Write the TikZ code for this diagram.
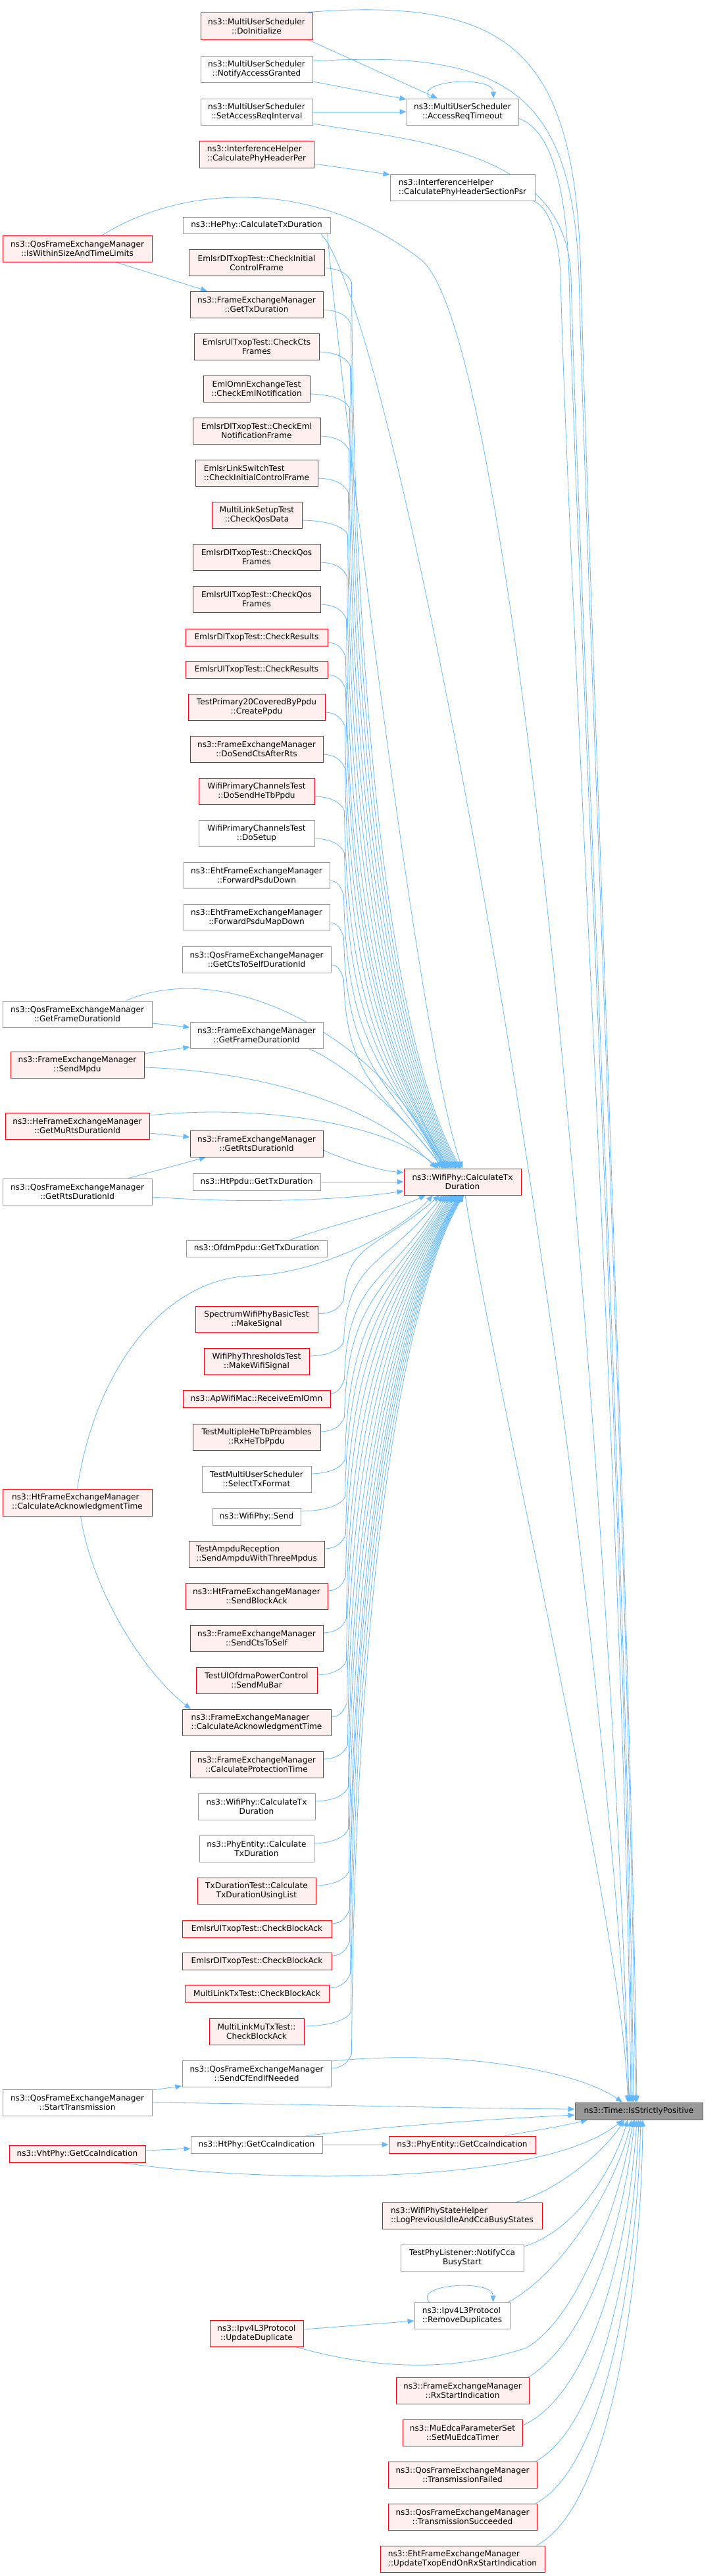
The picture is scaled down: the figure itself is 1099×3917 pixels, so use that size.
\documentclass[tikz,border=0pt]{standalone}
\usepackage{fontspec}
\setmainfont{DejaVu Sans}
\usetikzlibrary{arrows.meta,calc}
\definecolor{edgec}{HTML}{63B8FF}
\definecolor{redb}{HTML}{FF0000}
\definecolor{pinkf}{HTML}{FFF0F0}
\definecolor{grayb}{HTML}{999999}
\definecolor{tgtf}{HTML}{999999}
\definecolor{tgtb}{HTML}{666666}
\pgfdeclarelayer{back}\pgfdeclarelayer{bg}\pgfsetlayers{back,bg,main}
\tikzset{
  base/.style={draw, line width=1pt, inner sep=0pt, font=\fontsize{12.1pt}{14pt}\selectfont, align=center, text=black},
  rbox/.style={base, draw=redb, fill=pinkf},
  gbox/.style={base, draw=grayb, fill=white},
  tbox/.style={base, draw=tgtb, fill=tgtf},
  sz/.style 2 args={minimum width=#1pt, minimum height=#2pt},
  cline/.style={draw=edgec, line width=0.8pt, -{Triangle[length=10pt,width=8pt]}}
}
\newcommand\upC[5]{\draw[cline] ([yshift=-8pt]#1.east) .. controls +({0.65*#2},-1) and +(-4,10) .. ($(#1.east)+(#2,-30)$) .. controls +(4,-#3) and +(-90,#5) .. ([xshift=#4pt]cen.north);}
\newcommand\loC[5]{\draw[cline] ([yshift=8pt]#1.east) .. controls +({0.65*#2},1) and +(-4,-10) .. ($(#1.east)+(#2,30)$) .. controls +(4,#3) and +(-90,-#5) .. ([xshift=#4pt]cen.south);}
\begin{document}
\begin{tikzpicture}[x=1pt,y=1pt]
\useasboundingbox (0,0) rectangle (1099,-3917);
\begin{pgfonlayer}{back}\fill[white] (0,0) rectangle (1099,-3917);\end{pgfonlayer}
% nodes
\node[rbox,sz={170}{41}] (doinit) at (390,-39.5) {ns3::MultiUserScheduler\\::DoInitialize};
\node[gbox,sz={170}{40}] (notify) at (390,-105) {ns3::MultiUserScheduler\\::NotifyAccessGranted};
\node[gbox,sz={170}{40}] (setacc) at (390,-170) {ns3::MultiUserScheduler\\::SetAccessReqInterval};
\node[rbox,sz={174}{41},align=left] (phyper) at (390,-234.5) {ns3::InterferenceHelper\\::CalculatePhyHeaderPer};
\node[gbox,sz={170}{40}] (accto) at (703,-170) {ns3::MultiUserScheduler\\::AccessReqTimeout};
\node[gbox,sz={220}{40},align=left] (sectpsr) at (703,-285) {ns3::InterferenceHelper\\::CalculatePhyHeaderSectionPsr};
\node[rbox,sz={227}{40}] (within) at (117.5,-378) {ns3::QosFrameExchangeManager\\::IsWithinSizeAndTimeLimits};
\node[gbox,sz={224}{25}] (hephy) at (390,-342.5) {ns3::HePhy::CalculateTxDuration};
\node[rbox,sz={206}{40}] (chkinit) at (390,-399.5) {EmlsrDlTxopTest::CheckInitial\\ControlFrame};
\node[rbox,sz={202}{40}] (gettx) at (390,-463) {ns3::FrameExchangeManager\\::GetTxDuration};
\node[rbox,sz={190}{40}] (ctsfr) at (390,-527) {EmlsrUlTxopTest::CheckCts\\Frames};
\node[rbox,sz={162}{40}] (emlnot) at (390,-591) {EmlOmnExchangeTest\\::CheckEmlNotification};
\node[rbox,sz={194}{40}] (emlnotfr) at (390,-655) {EmlsrDlTxopTest::CheckEml\\NotificationFrame};
\node[rbox,sz={186}{40},align=left] (lsinit) at (390,-719) {EmlsrLinkSwitchTest\\::CheckInitialControlFrame};
\node[rbox,sz={137}{40}] (qosdata) at (390.5,-783) {MultiLinkSetupTest\\::CheckQosData};
\node[rbox,sz={194}{40}] (dlqos) at (390,-847) {EmlsrDlTxopTest::CheckQos\\Frames};
\node[rbox,sz={194}{40}] (ulqos) at (390,-911) {EmlsrUlTxopTest::CheckQos\\Frames};
\node[rbox,sz={216}{26}] (dlres) at (390,-969) {EmlsrDlTxopTest::CheckResults};
\node[rbox,sz={216}{26}] (ulres) at (390,-1018) {EmlsrUlTxopTest::CheckResults};
\node[rbox,sz={208}{40}] (ppdu) at (390,-1075) {TestPrimary20CoveredByPpdu\\::CreatePpdu};
\node[rbox,sz={202}{40}] (ctsrts) at (390,-1139) {ns3::FrameExchangeManager\\::DoSendCtsAfterRts};
\node[rbox,sz={176}{40}] (hetb) at (390,-1203) {WifiPrimaryChannelsTest\\::DoSendHeTbPpdu};
\node[gbox,sz={176}{40}] (dosetup) at (390,-1267) {WifiPrimaryChannelsTest\\::DoSetup};
\node[gbox,sz={222}{40}] (psdudown) at (390,-1331) {ns3::EhtFrameExchangeManager\\::ForwardPsduDown};
\node[gbox,sz={222}{40}] (psdumap) at (390,-1395) {ns3::EhtFrameExchangeManager\\::ForwardPsduMapDown};
\node[gbox,sz={226}{40}] (ctsself) at (390,-1459) {ns3::QosFrameExchangeManager\\::GetCtsToSelfDurationId};
\node[gbox,sz={227}{40}] (qosfdur) at (117.5,-1542) {ns3::QosFrameExchangeManager\\::GetFrameDurationId};
\node[gbox,sz={202}{40}] (fdur) at (390,-1574) {ns3::FrameExchangeManager\\::GetFrameDurationId};
\node[rbox,sz={203}{40}] (sendmpdu) at (117.5,-1619) {ns3::FrameExchangeManager\\::SendMpdu};
\node[rbox,sz={219}{40}] (murts) at (117.5,-1712) {ns3::HeFrameExchangeManager\\::GetMuRtsDurationId};
\node[rbox,sz={202}{40}] (rtsdur) at (390,-1739) {ns3::FrameExchangeManager\\::GetRtsDurationId};
\node[gbox,sz={194}{26}] (htppdu) at (390,-1797) {ns3::HtPpdu::GetTxDuration};
\node[gbox,sz={227}{40}] (qosrts) at (117.5,-1812) {ns3::QosFrameExchangeManager\\::GetRtsDurationId};
\node[gbox,sz={214}{25}] (ofdm) at (390,-1898.5) {ns3::OfdmPpdu::GetTxDuration};
\node[rbox,sz={178}{40}] (cen) at (703,-1797) {ns3::WifiPhy::CalculateTx\\Duration};
\node[rbox,sz={186}{40}] (mksig) at (390,-2006) {SpectrumWifiPhyBasicTest\\::MakeSignal};
\node[rbox,sz={160}{40}] (mkwifi) at (390,-2070) {WifiPhyThresholdsTest\\::MakeWifiSignal};
\node[rbox,sz={224}{26}] (emlomn) at (390,-2127) {ns3::ApWifiMac::ReceiveEmlOmn};
\node[rbox,sz={194}{40}] (rxhetb) at (390,-2185) {TestMultipleHeTbPreambles\\::RxHeTbPpdu};
\node[gbox,sz={166}{40}] (seltx) at (390,-2249) {TestMultiUserScheduler\\::SelectTxFormat};
\node[gbox,sz={134}{26}] (send) at (390,-2306) {ns3::WifiPhy::Send};
\node[rbox,sz={206}{40},align=left] (ampdu) at (390,-2363) {TestAmpduReception\\::SendAmpduWithThreeMpdus};
\node[rbox,sz={227}{41},align=left] (htack) at (117.5,-2284.5) {ns3::HtFrameExchangeManager\\::CalculateAcknowledgmentTime};
\node[rbox,sz={216}{40}] (sendba) at (390,-2427) {ns3::HtFrameExchangeManager\\::SendBlockAck};
\node[rbox,sz={202}{40}] (sendcts) at (390,-2491) {ns3::FrameExchangeManager\\::SendCtsToSelf};
\node[rbox,sz={184}{40}] (mubar) at (390,-2555) {TestUlOfdmaPowerControl\\::SendMuBar};
\node[rbox,sz={226}{40},align=left] (femack) at (390,-2619) {ns3::FrameExchangeManager\\::CalculateAcknowledgmentTime};
\node[rbox,sz={202}{40}] (prot) at (390,-2683) {ns3::FrameExchangeManager\\::CalculateProtectionTime};
\node[gbox,sz={178}{40}] (wtxdur) at (390,-2747) {ns3::WifiPhy::CalculateTx\\Duration};
\node[gbox,sz={174}{40}] (petx) at (390,-2811) {ns3::PhyEntity::Calculate\\TxDuration};
\node[rbox,sz={180}{40}] (txlist) at (390,-2875) {TxDurationTest::Calculate\\TxDurationUsingList};
\node[rbox,sz={227}{26}] (ulba) at (390.5,-2933) {EmlsrUlTxopTest::CheckBlockAck};
\node[rbox,sz={227}{26}] (dlba) at (390.5,-2982) {EmlsrDlTxopTest::CheckBlockAck};
\node[rbox,sz={219}{26}] (mlba) at (390.5,-3031) {MultiLinkTxTest::CheckBlockAck};
\node[rbox,sz={144}{40}] (mumlba) at (390,-3089) {MultiLinkMuTxTest::\\CheckBlockAck};
\node[gbox,sz={226}{40}] (cfend) at (390,-3153) {ns3::QosFrameExchangeManager\\::SendCfEndIfNeeded};
\node[gbox,sz={227}{40}] (starttx) at (117.5,-3197) {ns3::QosFrameExchangeManager\\::StartTransmission};
\node[gbox,sz={200}{26}] (htcca) at (390,-3261) {ns3::HtPhy::GetCcaIndication};
\node[rbox,sz={207}{26}] (vhtcca) at (117.5,-3275) {ns3::VhtPhy::GetCcaIndication};
\node[tbox,sz={194}{26}] (target) at (971,-3210) {ns3::Time::IsStrictlyPositive};
\node[rbox,sz={223}{26}] (pecca) at (702.5,-3261) {ns3::PhyEntity::GetCcaIndication};
\node[rbox,sz={243}{40},align=left] (logidle) at (702.5,-3369) {ns3::WifiPhyStateHelper\\::LogPreviousIdleAndCcaBusyStates};
\node[gbox,sz={187}{40}] (ccabusy) at (702.5,-3433) {TestPhyListener::NotifyCca\\BusyStart};
\node[gbox,sz={145}{40},align=left] (remdup) at (702.5,-3521) {ns3::Ipv4L3Protocol\\::RemoveDuplicates};
\node[rbox,sz={142}{40}] (upddup) at (390,-3548) {ns3::Ipv4L3Protocol\\::UpdateDuplicate};
\node[rbox,sz={202}{40}] (rxstart) at (703,-3635) {ns3::FrameExchangeManager\\::RxStartIndication};
\node[rbox,sz={182}{40}] (muedca) at (703,-3699) {ns3::MuEdcaParameterSet\\::SetMuEdcaTimer};
\node[rbox,sz={226}{40}] (txfail) at (703,-3763) {ns3::QosFrameExchangeManager\\::TransmissionFailed};
\node[rbox,sz={226}{40}] (txsucc) at (703,-3827) {ns3::QosFrameExchangeManager\\::TransmissionSucceeded};
\node[rbox,sz={250}{40},align=left] (txopend) at (703,-3891) {ns3::EhtFrameExchangeManager\\::UpdateTxopEndOnRxStartIndication};
% edges
\begin{pgfonlayer}{bg}
% top group
\draw[cline] ([xshift=-7pt]doinit.south east) -- ([xshift=-38pt]accto.north);
\draw[cline] ([yshift=-19pt]notify.east) -- ([yshift=19pt]accto.west);
\draw[cline] (setacc.east) -- (accto.west);
\draw[cline] ([yshift=-14.5pt]phyper.east) -- ([yshift=-1pt]sectpsr.north west);
\draw[cline] ([xshift=-50pt]accto.north) .. controls +(-25,28) and +(0,35) .. ([xshift=47pt]accto.north);
\draw[cline] ([xshift=-7pt]doinit.north east) .. controls (780,5) and (875,-80) .. (883,-420) .. controls (895,-900) and (958,-2400) .. ([xshift=-3pt]target.north);
\draw[cline] ([yshift=12pt]notify.east) .. controls (770,-75) and (870,-140) .. (880,-420) .. controls (892,-900) and (957,-2400) .. ([xshift=-5pt]target.north);
\draw[cline] ([yshift=-18pt]setacc.east) .. controls (640,-215) and (860,-230) .. (868,-420) .. controls (880,-900) and (955,-2400) .. ([xshift=-8pt]target.north);
\draw[cline] ([yshift=-10pt]accto.east) .. controls (830,-195) and (860,-260) .. (865,-420) .. controls (877,-900) and (953,-2400) .. ([xshift=-10pt]target.north);
\draw[cline] ([xshift=-3pt]sectpsr.south east) .. controls (835,-315) and (850,-360) .. (852,-420) .. controls (864,-900) and (951,-2400) .. ([xshift=-12pt]target.north);
% within / hephy
\draw[cline] ([xshift=58pt]within.south) -- ([xshift=-75pt]gettx.north);
\draw[cline] ([xshift=38pt]within.north) .. controls (280,-280) and (480,-270) .. (640,-395) .. controls (790,-515) and (930,-2300) .. ([xshift=-15pt]target.north);
\draw[cline] ([xshift=-15pt]hephy.south east) .. controls (600,-470) and (900,-2100) .. ([xshift=-14pt]target.north);
\draw[cline] ([xshift=-5pt]hephy.south east) .. controls (530,-700) and (640,-1600) .. (cen.north);
% upper callers of central
\upC{chkinit}{41}{740}{-2}{150}
\upC{gettx}{42}{706}{-4}{150}
\upC{ctsfr}{47}{671}{-6}{150}
\upC{emlnot}{60}{636}{-8}{150}
\upC{emlnotfr}{43}{600}{-10}{150}
\upC{lsinit}{46}{565}{-12}{150}
\upC{qosdata}{69}{530}{-14}{150}
\upC{dlqos}{40}{495}{-16}{150}
\upC{ulqos}{39}{460}{-18}{150}
\upC{dlres}{27}{428}{-20}{150}
\upC{ulres}{27}{401}{-21}{150}
\upC{ppdu}{30}{370}{-22}{150}
\upC{ctsrts}{33}{334}{-24}{150}
\upC{hetb}{45}{299}{-25}{150}
\upC{dosetup}{45}{264}{-26}{150}
\upC{psdudown}{21}{229}{-27}{150}
\upC{psdumap}{21}{194}{-28}{140}
\upC{ctsself}{19}{158}{-30}{120}
% middle
\draw[cline] ([yshift=-14pt]qosfdur.east) -- ([yshift=12pt]fdur.west);
\draw[cline] ([xshift=-40pt]qosfdur.north east) .. controls (360,-1450) and (600,-1600) .. ([xshift=-34pt]cen.north);
\draw[cline] ([xshift=-23pt]fdur.south east) .. controls (520,-1615) and (610,-1690) .. ([xshift=-30pt]cen.north);
\draw[cline] ([yshift=17pt]sendmpdu.east) -- ([yshift=-18pt]fdur.west);
\draw[cline] ([yshift=-4pt]sendmpdu.east) .. controls (420,-1630) and (580,-1690) .. ([xshift=-40pt]cen.north);
\draw[cline] ([yshift=-11pt]murts.east) -- ([yshift=10pt]rtsdur.west);
\draw[cline] ([yshift=16pt]murts.east) .. controls (400,-1678) and (590,-1710) .. ([xshift=-36pt]cen.north);
\draw[cline] ([xshift=78pt]qosrts.north) -- ([xshift=-77pt]rtsdur.south);
\draw[cline] ([yshift=-8pt]qosrts.east) .. controls (400,-1832) and (540,-1822) .. ([yshift=-14pt]cen.west);
\draw[cline] ([yshift=-10pt]rtsdur.east) .. controls (540,-1770) and (580,-1780) .. ([yshift=14pt]cen.west);
\draw[cline] (htppdu.east) -- (cen.west);
\draw[cline] ([xshift=50pt]ofdm.north) .. controls (520,-1858) and (600,-1840) .. ([xshift=-56pt]cen.south);
\draw[cline] (htack.north) .. controls (145,-2080) and (250,-1945) .. (380,-1940) .. controls (480,-1937) and (600,-1880) .. ([xshift=-45pt]cen.south);
\draw[cline] ([xshift=5pt]htack.south) .. controls (140,-2420) and (220,-2545) .. ([xshift=-100pt]femack.north);
% lower callers of central
\loC{mksig}{39}{87}{-35}{80}
\loC{mkwifi}{52}{123}{-30}{110}
\loC{emlomn}{21}{154}{-27}{140}
\loC{rxhetb}{36}{186}{-24}{150}
\loC{seltx}{51}{221}{-21}{150}
\loC{send}{67}{252}{-18}{150}
\loC{ampdu}{32}{284}{-16}{150}
\loC{sendba}{27}{319}{-14}{150}
\loC{sendcts}{35}{354}{-12}{150}
\loC{mubar}{44}{389}{-10}{150}
\loC{femack}{24}{425}{-8}{150}
\loC{prot}{37}{460}{-6}{150}
\loC{wtxdur}{50}{495}{-5}{150}
\loC{petx}{52}{530}{-4}{150}
\loC{txlist}{50}{565}{-3}{150}
\loC{ulba}{27}{597}{-2}{150}
\loC{dlba}{27}{624}{-1}{150}
\loC{mlba}{32}{651}{0}{150}
\loC{mumlba}{71}{683}{1}{150}
\loC{cfend}{31}{718}{2}{150}
% central to target
\draw[cline] ([xshift=4pt]cen.south) .. controls (760,-2150) and (950,-2950) .. ([xshift=-17pt]target.north);
% bottom group
\draw[cline] ([yshift=19pt]cfend.east) .. controls (700,-3115) and (880,-3150) .. ([xshift=-25pt]target.north);
\draw[cline] ([yshift=19pt]starttx.east) -- ([yshift=-19pt]cfend.west);
\draw[cline] (starttx.east) .. controls (500,-3200) and (700,-3206) .. ([yshift=3pt]target.west);
\draw[cline] (htcca.east) -- (pecca.west);
\draw[cline] ([xshift=-25pt]htcca.north east) .. controls (600,-3232) and (750,-3222) .. ([yshift=-6pt]target.west);
\draw[cline] ([yshift=5pt]vhtcca.east) -- ([yshift=-6pt]htcca.west);
\draw[cline] ([xshift=67pt]vhtcca.south) .. controls (400,-3320) and (820,-3325) .. ([xshift=-24pt]target.south);
\draw[cline] ([xshift=65pt]pecca.north) .. controls (800,-3242) and (860,-3232) .. ([xshift=-78pt]target.south);
\draw[cline] ([xshift=82pt]logidle.north) .. controls (850,-3330) and (920,-3270) .. ([xshift=-22pt]target.south);
\draw[cline] ([yshift=17pt]ccabusy.east) .. controls (880,-3390) and (935,-3290) .. ([xshift=-17pt]target.south);
\draw[cline] ([xshift=-50pt]remdup.north) .. controls +(-25,28) and +(0,35) .. ([xshift=47pt]remdup.north);
\draw[cline] ([xshift=-3pt]remdup.north east) .. controls (850,-3460) and (935,-3330) .. ([xshift=-11pt]target.south);
\draw[cline] ([yshift=6pt]upddup.east) -- ([yshift=-8pt]remdup.west);
\draw[cline] ([xshift=59pt]upddup.south) .. controls (560,-3600) and (680,-3610) .. (800,-3570) .. controls (870,-3530) and (935,-3380) .. ([xshift=-8pt]target.south);
\draw[cline] ([xshift=-1pt]rxstart.north east) .. controls (890,-3560) and (945,-3400) .. ([xshift=-6pt]target.south);
\draw[cline] ([yshift=11pt]muedca.east) .. controls (900,-3640) and (955,-3420) .. ([xshift=-3pt]target.south);
\draw[cline] ([xshift=-2pt]txfail.north east) .. controls (910,-3690) and (962,-3450) .. (target.south);
\draw[cline] ([xshift=-2pt]txsucc.north east) .. controls (920,-3750) and (968,-3460) .. ([xshift=3pt]target.south);
\draw[cline] ([xshift=-13pt]txopend.north east) .. controls (930,-3810) and (975,-3470) .. ([xshift=6pt]target.south);
\end{pgfonlayer}
\end{tikzpicture}
\end{document}
